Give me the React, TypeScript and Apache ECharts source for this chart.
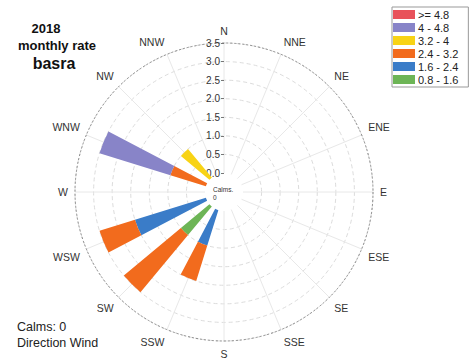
import React, { useEffect, useRef } from "react";
import * as echarts from "echarts";

const directions = ["N", "NNE", "NE", "ENE", "E", "ESE", "SE", "SSE", "S", "SSW", "SW", "WSW", "W", "WNW", "NW", "NNW"];
const speedBins = ["0.8 - 1.6", "1.6 - 2.4", "2.4 - 3.2", "3.2 - 4", "4 - 4.8", ">= 4.8"];
const binColors = ["#6db556", "#3a7cc8", "#f26b1d", "#f8d315", "#8884c8", "#e8525a"];
// months per direction (N ... NNW clockwise)
const speed08_16 = [0, 0, 0, 0, 0, 0, 0, 0, 0, 0, 1, 0, 0, 0, 0, 0];
const speed16_24 = [0, 0, 0, 0, 0, 0, 0, 0, 0, 1, 0, 2, 0, 0, 0, 0];
const speed24_32 = [0, 0, 0, 0, 0, 0, 0, 0, 0, 1, 2, 1, 0, 1, 0, 0];
const speed32_40 = [0, 0, 0, 0, 0, 0, 0, 0, 0, 0, 0, 0, 0, 0, 1, 0];
const speed40_48 = [0, 0, 0, 0, 0, 0, 0, 0, 0, 0, 0, 0, 0, 2, 0, 0];
const speed48up = [0, 0, 0, 0, 0, 0, 0, 0, 0, 0, 0, 0, 0, 0, 0, 0];
const radiusMax = 3.5;
const radiusStep = 0.5;
const titleLines = ["2018", "monthly rate", "basra"];
const calms = 0;

const FONT = "'Liberation Sans', Arial, sans-serif";

export default function App() {
  const ref = useRef<HTMLDivElement>(null);
  useEffect(() => {
    if (!ref.current) return;
    const chart = echarts.init(ref.current, null, { renderer: "svg" });
    const seriesData = [speed08_16, speed16_24, speed24_32, speed32_40, speed40_48, speed48up];
    const center = [224, 192];
    const ringCount = Math.round(radiusMax / radiusStep) + 1;
    const ringColors = Array.from({ length: ringCount }, (_, i) => (i === 0 ? "rgba(0,0,0,0)" : "#dcdcdc"));
    chart.setOption({
      animation: false,
      textStyle: { fontFamily: FONT },
      polar: [
        { center, radius: [19, 149] },
        { center, radius: [19, 149] },
        { center, radius: 149 },
      ],
      angleAxis: [
        {
          polarIndex: 0,
          type: "category",
          data: directions,
          startAngle: 101.25,
          boundaryGap: true,
          axisLine: { show: false },
          axisTick: { show: false },
          axisLabel: { interval: 0, margin: 7, fontSize: 10.5, color: "#333", fontFamily: FONT },
          splitLine: { show: false },
        },
        {
          polarIndex: 1,
          type: "value",
          min: 0,
          max: 360,
          interval: 22.5,
          startAngle: 90,
          axisLine: { show: false },
          axisTick: { show: false },
          axisLabel: { show: false },
          splitLine: { show: true, lineStyle: { color: "#e8e8e8", width: 1 } },
        },
        {
          polarIndex: 2,
          type: "value",
          min: 0,
          max: 360,
          interval: 90,
          startAngle: 90,
          axisLine: { show: true, lineStyle: { color: "#8a8a8a", width: 1, type: [2, 2] } },
          axisTick: { show: false },
          axisLabel: { show: false },
          splitLine: { show: false },
        },
      ],
      radiusAxis: [
        {
          polarIndex: 0,
          type: "value",
          min: 0,
          max: radiusMax,
          interval: radiusStep,
          axisLine: { show: false },
          axisTick: { show: false },
          axisLabel: { show: false },
          splitLine: { show: false },
        },
        {
          polarIndex: 1,
          type: "value",
          min: 0,
          max: radiusMax,
          interval: radiusStep,
          axisLine: { show: false },
          axisTick: { show: true, length: 3, lineStyle: { color: "#777" } },
          axisLabel: {
            margin: 4,
            fontSize: 10,
            color: "#333",
            fontFamily: FONT,
            formatter: (v: number) => v.toFixed(1),
          },
          splitLine: { show: true, lineStyle: { color: ringColors, type: [4, 3] } },
        },
        {
          polarIndex: 2,
          type: "value",
          min: 0,
          max: radiusMax,
          show: false,
        },
      ],
      legend: {
        orient: "vertical",
        left: 392,
        top: 7,
        padding: [2, 10, 2, 1],
        itemWidth: 22,
        itemHeight: 9,
        itemGap: 2,
        icon: "rect",
        selectedMode: false,
        borderColor: "#999",
        borderWidth: 1,
        data: [...speedBins].reverse(),
        textStyle: { fontSize: 11, color: "#222", fontFamily: FONT, padding: [0, 0, 0, -2] },
      },
      series: speedBins.map((name, i) => ({
        type: "bar",
        name,
        coordinateSystem: "polar",
        polarIndex: 0,
        stack: "total",
        barWidth: "46%",
        itemStyle: { color: binColors[i] },
        data: seriesData[i],
      })),
      graphic: [
        { type: "text", x: 46, y: 28, style: { text: titleLines[0], font: `bold 13px ${FONT}`, fill: "#111", textAlign: "center", textVerticalAlign: "middle" } },
        { type: "text", x: 57, y: 45, style: { text: titleLines[1], font: `bold 13px ${FONT}`, fill: "#111", textAlign: "center", textVerticalAlign: "middle" } },
        { type: "text", x: 54, y: 63, style: { text: titleLines[2], font: `bold 16px ${FONT}`, fill: "#111", textAlign: "center", textVerticalAlign: "middle" } },
        { type: "text", x: 17, y: 327, style: { text: `Calms: ${calms}`, font: `12.5px ${FONT}`, fill: "#222", textVerticalAlign: "middle" } },
        { type: "text", x: 17, y: 343, style: { text: "Direction Wind", font: `12.5px ${FONT}`, fill: "#222", textVerticalAlign: "middle" } },
        { type: "text", x: 213, y: 189, z: 10, style: { text: "Calms.", font: `6.5px ${FONT}`, fill: "#333", textVerticalAlign: "middle" } },
        { type: "text", x: 213, y: 197, z: 10, style: { text: String(calms), font: `6.5px ${FONT}`, fill: "#333", textVerticalAlign: "middle" } },
      ],
    });
    return () => chart.dispose();
  }, []);
  return <div ref={ref} style={{ position: "fixed", left: 0, top: 0, width: 474, height: 363, background: "#fff" }} />;
}
